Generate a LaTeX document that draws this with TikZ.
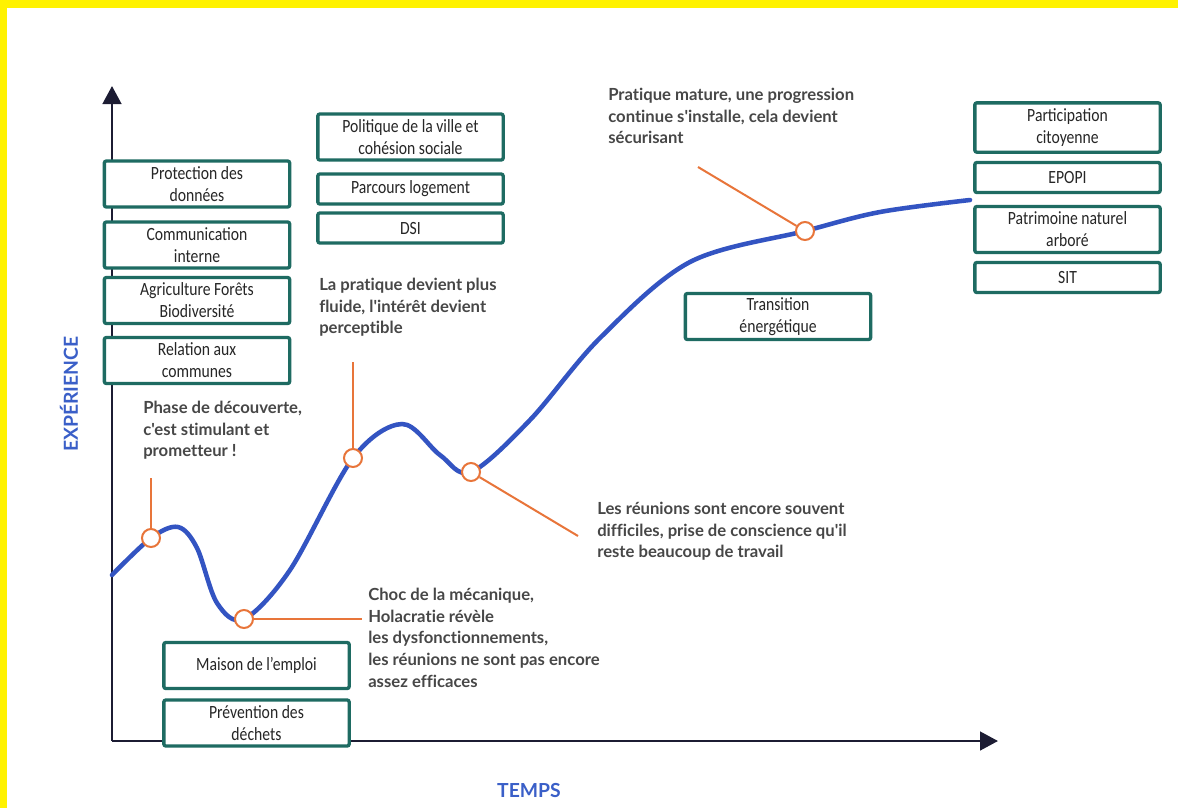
\documentclass[tikz,border=0pt]{standalone}
\usepackage{fontspec}
\setmainfont{Lato}
\newfontfamily\boxfont[FakeStretch=0.84]{Carlito}
\newfontfamily\annfont[Ligatures=NoCommon]{Lato}
\usetikzlibrary{arrows.meta}
\definecolor{boxc}{HTML}{1E6B62}
\definecolor{curvec}{HTML}{3354C2}
\definecolor{orangec}{HTML}{E8753A}
\definecolor{axisc}{HTML}{1C1C33}
\definecolor{labc}{HTML}{3A5FC8}
\definecolor{txtc}{HTML}{474747}
\definecolor{ylw}{HTML}{FFF200}
\begin{document}
\begin{tikzpicture}[x=0.75pt,y=-0.75pt,
  box/.style={draw=boxc, line width=2.5pt, fill=white, rounded corners=1.5pt, inner sep=0pt,
    minimum width=139pt, align=center, font=\boxfont\fontsize{14}{16.5}\selectfont, text=black!85},
  two/.style={minimum height=34.5pt},
  one/.style={minimum height=22.5pt},
  ann/.style={anchor=north west, inner sep=0pt, align=left,
    font=\annfont\bfseries\fontsize{12.5}{16.2}\selectfont, text=txtc},
  dotc/.style={circle, draw=orangec, line width=1.5pt, fill=white, minimum size=13.5pt, inner sep=0pt},
  lead/.style={draw=orangec, line width=1.5pt},
  axis/.style={draw=axisc, line width=1.9pt, -{Triangle[length=13.5pt,width=14pt]}},
  axlab/.style={font=\bfseries\fontsize{14.5}{16}\selectfont, text=labc}
]
% background
\fill[ylw] (0,0) rectangle (1178,808);
\fill[white] (7,8) rectangle (1178,808);
\useasboundingbox (0,0) rectangle (1178,808);

% axes
\coordinate (O) at (112,741);
\coordinate (ytop) at (112,86);
\coordinate (xend) at (998,741);
\draw[axis] (O) -- (ytop);
\draw[axis] (O) -- (xend);
\node[axlab, rotate=90] (ylab) at (69,394) {EXPÉRIENCE};
\node[axlab] (xlab) at (529,790) {TEMPS};

% curve
\draw[curvec, line width=3.4pt, line cap=round] plot[smooth, tension=0.55] coordinates {
  (112,575) (151,538) (178,527) (197,548) (217,603) (244,619) (290,570) (353,458)
  (402,424) (440,455) (471,472) (530,420) (600,338) (690,262) (805,231) (880,212) (970,200)};

% boxes
\node[box,two] (p1) at (197,184) {Protection des\\données};
\node[box,two] (p2) at (197,245) {Communication\\interne};
\node[box,two] (p3) at (197,300.5) {Agriculture Forêts\\Biodiversité};
\node[box,two] (p4) at (197,360.5) {Relation aux\\communes};
\node[box,two] (m1) at (410.5,137) {Politique de la ville et\\cohésion sociale};
\node[box,one] (m2) at (410.5,189) {Parcours logement};
\node[box,one] (m3) at (410.5,228) {DSI};
\node[box,two] (b1) at (256.5,665.5) {Maison de l’emploi};
\node[box,two] (b2) at (256.5,723) {Prévention des\\déchets};
\node[box,two] (t1) at (778,316.5) {Transition\\énergétique};
\node[box,two, minimum height=37pt] (r1) at (1067.5,127.5) {Participation\\citoyenne};
\node[box,one] (r2) at (1067.5,177.5) {EPOPI};
\node[box,two] (r3) at (1067.5,229.5) {Patrimoine naturel\\arboré};
\node[box,one] (r4) at (1067.5,277.5) {SIT};

% markers and leaders
\node[dotc] (c1) at (151,538) {};
\node[dotc] (c2) at (244,619) {};
\node[dotc] (c3) at (353,458) {};
\node[dotc] (c4) at (471,472) {};
\node[dotc] (c5) at (805,231) {};
\coordinate (l1) at (151,478);
\coordinate (l2) at (362,619);
\coordinate (l3) at (353,362);
\coordinate (l4) at (578,536);
\coordinate (l5) at (698,167);
\draw[lead] (c1) -- (l1);
\draw[lead] (c2) -- (l2);
\draw[lead] (c3) -- (l3);
\draw[lead] (c4) -- (l4);
\draw[lead] (c5) -- (l5);

% annotations
\node[ann] (a1) at (143,401) {Phase de découverte,\\c'est stimulant et\\prometteur !};
\node[ann] (a2) at (319,278) {La pratique devient plus\\fluide, l'intérêt devient\\perceptible};
\node[ann] (a3) at (608,88) {Pratique mature, une progression\\continue s'installe, cela devient\\sécurisant};
\node[ann] (a4) at (597,502) {Les réunions sont encore souvent\\difficiles, prise de conscience qu'il\\reste beaucoup de travail};
\node[ann] (a5) at (368,588) {Choc de la mécanique,\\Holacratie révèle\\les dysfonctionnements,\\les réunions ne sont pas encore\\assez efficaces};
\end{tikzpicture}
\end{document}
